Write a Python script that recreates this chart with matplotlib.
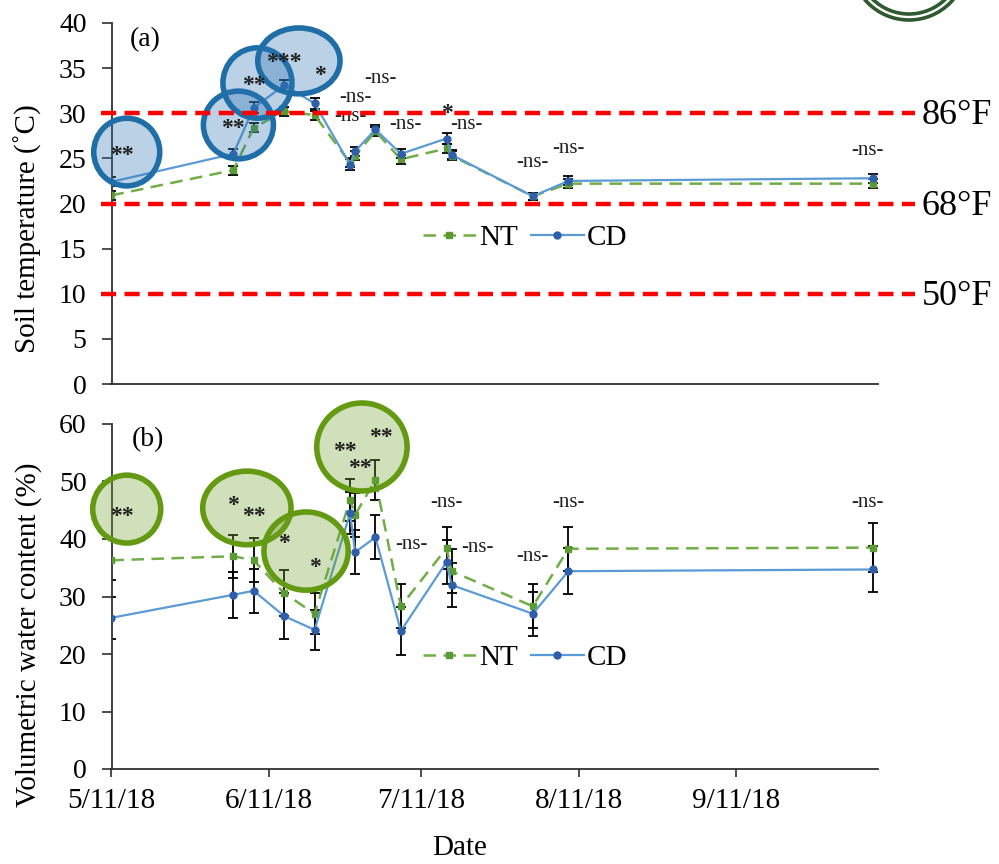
import matplotlib
matplotlib.use("Agg")
import matplotlib.pyplot as plt
import matplotlib.dates as mdates
from matplotlib.patches import Ellipse
from matplotlib.lines import Line2D
import matplotlib.transforms as mtransforms
import pandas as pd

plt.rcParams['font.family'] = ['Liberation Serif', 'DejaVu Serif']

# ---------------- data ----------------
dates = ["2018-05-11", "2018-06-04", "2018-06-08", "2018-06-14", "2018-06-20",
         "2018-06-27", "2018-06-28", "2018-07-02", "2018-07-07", "2018-07-16",
         "2018-07-17", "2018-08-02", "2018-08-09", "2018-10-08"]

temp_nt = [20.9, 23.7, 28.4, 30.2, 29.8, 24.5, 25.3, 28.0, 24.9, 26.1, 25.3, 20.8, 22.2, 22.2]
temp_cd = [22.4, 25.5, 30.6, 33.1, 31.1, 24.3, 25.8, 28.2, 25.5, 27.2, 25.4, 20.8, 22.5, 22.8]
temp_nt_err = [0.5, 0.5, 0.5, 0.5, 0.5, 0.5, 0.5, 0.5, 0.5, 0.5, 0.5, 0.4, 0.5, 0.5]
temp_cd_err = [0.5, 0.5, 0.6, 0.6, 0.6, 0.6, 0.5, 0.5, 0.5, 0.6, 0.5, 0.4, 0.5, 0.5]

vwc_nt = [36.3, 37.0, 36.3, 30.6, 27.0, 46.8, 44.2, 50.3, 28.3, 38.4, 34.4, 28.3, 38.3, 38.5]
vwc_cd = [26.3, 30.3, 31.0, 26.6, 24.2, 44.5, 37.7, 40.3, 24.0, 36.0, 32.0, 27.0, 34.4, 34.7]
vwc_nt_err = [3.5, 3.7, 3.8, 4.0, 3.6, 3.6, 3.8, 3.5, 3.8, 3.7, 3.8, 3.8, 3.8, 4.2]
vwc_cd_err = [3.7, 4.0, 3.8, 4.0, 3.5, 3.6, 3.8, 3.8, 4.2, 3.8, 3.8, 3.8, 4.0, 4.0]

tick_dates = ["2018-05-11", "2018-06-11", "2018-07-11", "2018-08-11", "2018-09-11"]
tick_labels = ["5/11/18", "6/11/18", "7/11/18", "8/11/18", "9/11/18"]
x_start, x_end = "2018-05-11", "2018-10-09"

thresholds_c = [30, 20, 10]
thresholds_f = ["86°F", "68°F", "50°F"]

# significance labels (date, value, text)
sig_top = [("2018-05-13", 25.9, "**"), ("2018-06-04", 28.9, "**"), ("2018-06-08", 33.7, "**"),
           ("2018-06-14", 36.2, "***"), ("2018-06-21", 34.8, "*"),
           ("2018-07-03", 33.8, "-ns-"), ("2018-06-28", 31.8, "-ns-"), ("2018-06-27", 29.6, "-ns-"),
           ("2018-07-08", 28.8, "-ns-"), ("2018-07-16", 30.6, "*"), ("2018-07-20", 28.8, "-ns-"),
           ("2018-08-02", 24.5, "-ns-"), ("2018-08-09", 26.1, "-ns-"), ("2018-10-07", 25.9, "-ns-")]
sig_bot = [("2018-05-13", 45.0, "**"), ("2018-06-04", 46.8, "*"), ("2018-06-08", 45.0, "**"),
           ("2018-06-14", 40.2, "*"), ("2018-06-20", 36.0, "*"),
           ("2018-06-26", 56.3, "**"), ("2018-07-03", 58.6, "**"), ("2018-06-29", 53.2, "**"),
           ("2018-07-09", 39.1, "-ns-"), ("2018-07-16", 46.4, "-ns-"), ("2018-07-22", 38.6, "-ns-"),
           ("2018-08-02", 36.9, "-ns-"), ("2018-08-09", 46.4, "-ns-"), ("2018-10-07", 46.4, "-ns-")]

# highlight circles (center date, center value, width days, height units)
circ_top = [("2018-05-14", 25.7, 13.0, 7.5), ("2018-06-05", 28.7, 13.8, 7.5),
            ("2018-06-08 18:00", 33.35, 13.6, 7.8), ("2018-06-16 22:00", 35.8, 16.2, 7.3)]
circ_bot = [("2018-05-14", 45.2, 13.4, 11.8), ("2018-06-06 16:00", 45.4, 17.4, 12.8),
            ("2018-06-18 08:00", 37.9, 16.6, 13.6), ("2018-06-29 08:00", 56.0, 17.8, 15.3)]

# ---------------- styles ----------------
NT_LINE = '#70AD47'
NT_MARK = '#5B9A35'
CD_LINE = '#5B9BD5'
CD_MARK = '#2F5FA8'

x = mdates.date2num(pd.to_datetime(dates))
xt = mdates.date2num(pd.to_datetime(tick_dates))
xl = mdates.date2num(pd.to_datetime([x_start, x_end]))

fig = plt.figure(figsize=(9.99, 8.64), dpi=100)
W, H = 999, 864
ax1 = fig.add_axes([111.5 / W, 1 - 384 / H, 766.5 / W, 361 / H])
ax2 = fig.add_axes([111.5 / W, 1 - 769 / H, 766.5 / W, 345 / H])


def style_axis(ax, ymax, ystep):
    for s in ['top', 'right']:
        ax.spines[s].set_visible(False)
    for s in ['left', 'bottom']:
        ax.spines[s].set_linewidth(1.3)
        ax.spines[s].set_color('#303030')
    ax.set_ylim(0, ymax)
    ax.set_yticks(range(0, ymax + 1, ystep))
    ax.set_xlim(xl[0], xl[1])
    ax.tick_params(axis='y', direction='out', length=7, width=1.2, labelsize=20, pad=11, color='#303030')
    ax.tick_params(axis='x', direction='out', length=6, width=1.2, labelsize=21, pad=8, color='#303030')


def draw_series(ax, ynt, ycd, ent, ecd, legend_y):
    ax.errorbar(x, ynt, yerr=ent, fmt='none', ecolor='black', elinewidth=1.3,
                capsize=3.5, capthick=1.3, zorder=2)
    ax.errorbar(x, ycd, yerr=ecd, fmt='none', ecolor='black', elinewidth=1.3,
                capsize=3.5, capthick=1.3, zorder=2)
    ax.plot(x, ynt, color=NT_LINE, lw=1.8, ls=(0, (5, 3)), marker='s', ms=5,
            mfc=NT_MARK, mec=NT_MARK, zorder=3, label='NT')
    ax.plot(x, ycd, color=CD_LINE, lw=1.6, ls='-', marker='o', ms=5,
            mfc=CD_MARK, mec=CD_MARK, zorder=3, label='CD')
    leg = ax.legend(loc='center', bbox_to_anchor=(0.54, legend_y), ncol=2, frameon=False,
                    fontsize=21, handlelength=1.8, handletextpad=0.12, columnspacing=0.45)
    return leg


style_axis(ax1, 40, 5)
style_axis(ax2, 60, 10)

draw_series(ax1, temp_nt, temp_cd, temp_nt_err, temp_cd_err, 0.405)
draw_series(ax2, vwc_nt, vwc_cd, vwc_nt_err, vwc_cd_err, 0.322)

# x ticks
ax1.set_xticks(xt)
ax1.tick_params(axis='x', length=0, labelbottom=False)
ax2.set_xticks(xt)
ax2.set_xticklabels(tick_labels)

# axis labels
ax1.set_ylabel("Soil temperature (˚C)", fontsize=21)
ax1.yaxis.set_label_coords(-0.091, 0.43)
ax2.set_ylabel("Volumetric water content (%)", fontsize=21)
ax2.yaxis.set_label_coords(-0.091, 0.39)
fig.text(460 / W, 1 - 848 / H, "Date", fontsize=21, ha='center', va='center')

ax1.text(0.044, 0.953, "(a)", transform=ax1.transAxes, fontsize=20, ha='center', va='center')
ax2.text(0.048, 0.954, "(b)", transform=ax2.transAxes, fontsize=20, ha='center', va='center')

# threshold lines
trans = mtransforms.blended_transform_factory(ax1.transAxes, ax1.transData)
for yv, lab in zip(thresholds_c, thresholds_f):
    ax1.add_line(Line2D([-0.0137, 1.048], [yv, yv], transform=trans, color='#FF0000', lw=3.2,
                        ls=(0, (3.4, 1.9)), clip_on=False, zorder=8))
    ax1.text(1.057, yv - 0.3, lab, transform=trans, fontsize=26, ha='left', va='center',
             clip_on=False)

# highlight circles
for (d, v, w, h) in circ_top:
    c = mdates.date2num(pd.to_datetime(d))
    ax1.add_patch(Ellipse((c, v), w, h, facecolor=(0.18, 0.46, 0.71, 0.33),
                          edgecolor='#1F6EA8', lw=4.0, zorder=5, clip_on=False))
for (d, v, w, h) in circ_bot:
    c = mdates.date2num(pd.to_datetime(d))
    ax2.add_patch(Ellipse((c, v), w, h, facecolor=(0.44, 0.63, 0.19, 0.33),
                          edgecolor='#649A12', lw=4.0, zorder=5, clip_on=False))

# significance text
for ax, sig in ((ax1, sig_top), (ax2, sig_bot)):
    for d, v, t in sig:
        c = mdates.date2num(pd.to_datetime(d))
        if t.startswith('-'):
            ax.text(c, v, t, fontsize=15, ha='center', va='center', zorder=6, color='#202020')
        else:
            ax.text(c, v - (0.6 if ax is ax1 else 1.0), t, fontsize=17, ha='center', va='center',
                    zorder=6, color='#202020', fontweight='bold')

# decorative rings at top-right corner
for r in (58, 52):
    fig.patches.append(Ellipse((909 / W, 1 + 38 / H), 2 * r / W, 2 * r / H,
                               transform=fig.transFigure, facecolor='none',
                               edgecolor='#2F5A2F', lw=2.6))

fig.savefig("out.png", dpi=100)
